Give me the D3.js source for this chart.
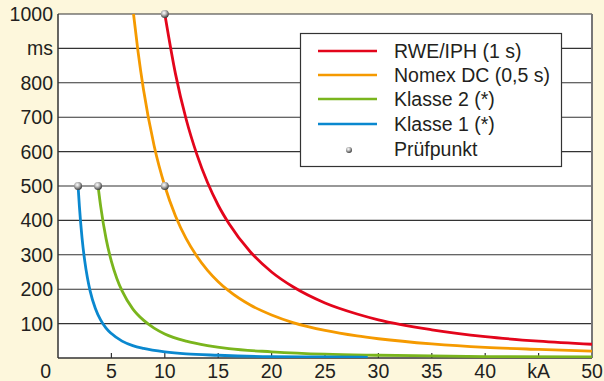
<!DOCTYPE html>
<html><head><meta charset="utf-8">
<script src="https://cdn.jsdelivr.net/npm/d3@7"></script>
<style>
html,body{margin:0;padding:0;background:#fdf7dc;}
svg{display:block;font-family:"Liberation Sans",Arial,Helvetica,sans-serif;}
</style></head>
<body>
<svg id="c" width="604" height="381"></svg>
<script>
// ---- data ----
const yTicks = [100,200,300,400,500,600,700,800,900,1000];
const yTickLabels = ["100","200","300","400","500","600","700","800","ms","1000"];
const xTicks = [5,10,15,20,25,30,35,40,45,50];
const xTickLabels = ["5","10","15","20","25","30","35","40","kA","50"];

const seriesNames = ["RWE/IPH (1 s)","Nomex DC (0,5 s)","Klasse 2 (*)","Klasse 1 (*)"];
const seriesColors = ["#e3051b","#f59a00","#7ab51d","#0a88cf"];

const rweKA = [10,11,12,13,14,15,16,18,20,22,25,28,30,35,40,45,50];
const rweMS = [1000,826,694,592,510,444,391,309,250,207,160,128,111,82,62,49,40];

const nomexKA = [7.07,7.5,8,9,10,11,12,13,14,15,16,18,20,22,25,28,30,35,40,45,50];
const nomexMS = [1000,889,781,617,500,413,347,296,255,222,195,154,125,103,80,64,56,41,31,25,20];

const kl2KA = [3.75,4,4.5,5,5.5,6,7,8,9,10,12,14,16,20,25,30,35,40,50];
const kl2MS = [500,440,347,281,232,195,143,110,87,70,49,36,27,18,11,8,6,4,3];

const kl1KA = [1.88,2,2.25,2.5,2.75,3,3.5,4,4.5,5,6,7,8,10,12,15,20,25,29];
const kl1MS = [500,442,349,283,234,196,144,110,87,71,49,36,28,18,12,8,4,3,2];

const checkKA = [1.88,3.75,10,10];
const checkMS = [500,500,500,1000];
const checkLabel = "Prüfpunkt";

// ---- drawing ----
const svg = d3.select("#c");
const L = 58, R = 592, T = 14, B = 358;
const x = d3.scaleLinear().domain([0,50]).range([L,R]);
const y = d3.scaleLinear().domain([0,1000]).range([B,T]);

const defs = svg.append("defs");
const g = defs.append("radialGradient").attr("id","dotg").attr("cx","40%").attr("cy","35%").attr("r","65%");
g.append("stop").attr("offset","0%").attr("stop-color","#ffffff");
g.append("stop").attr("offset","45%").attr("stop-color","#b8b8b8");
g.append("stop").attr("offset","100%").attr("stop-color","#3c3c3c");
defs.append("clipPath").attr("id","clip").append("rect").attr("x",L).attr("y",T-2).attr("width",R-L).attr("height",B-T+2);

svg.append("rect").attr("x",L).attr("y",T).attr("width",R-L).attr("height",B-T).attr("fill","#fff");

// horizontal grid
svg.append("g").selectAll("line").data(yTicks).join("line")
  .attr("x1",L).attr("x2",R).attr("y1",d=>y(d)).attr("y2",d=>y(d))
  .attr("stroke","#333").attr("stroke-width",1.1);

// bottom ticks (inside)
svg.append("g").selectAll("line").data(xTicks.slice(0,-1)).join("line")
  .attr("x1",d=>x(d)).attr("x2",d=>x(d)).attr("y1",B).attr("y2",B-5)
  .attr("stroke","#333").attr("stroke-width",1.2);

// frame
svg.append("line").attr("x1",L).attr("x2",L).attr("y1",T).attr("y2",B).attr("stroke","#333").attr("stroke-width",1.5);
svg.append("line").attr("x1",L).attr("x2",R).attr("y1",B).attr("y2",B).attr("stroke","#333").attr("stroke-width",1.5);
svg.append("line").attr("x1",R).attr("x2",R).attr("y1",T).attr("y2",B).attr("stroke","#777").attr("stroke-width",2);

// curves
const series = [[rweKA,rweMS],[nomexKA,nomexMS],[kl2KA,kl2MS],[kl1KA,kl1MS]];
const line = d3.line().x(d=>x(d[0])).y(d=>y(d[1])).curve(d3.curveMonotoneX);
const cg = svg.append("g").attr("clip-path","url(#clip)");
series.forEach((s,i)=>{
  const pts = s[0].map((k,j)=>[k,s[1][j]]);
  cg.append("path").attr("d",line(pts)).attr("fill","none")
    .attr("stroke",seriesColors[i]).attr("stroke-width",2.8);
});

// check points
svg.append("g").selectAll("circle").data(checkKA.map((k,i)=>[k,checkMS[i]])).join("circle")
  .attr("cx",d=>x(d[0])).attr("cy",d=>y(d[1])).attr("r",4)
  .attr("fill","url(#dotg)");

// y labels
svg.append("g").selectAll("text").data(yTicks).join("text")
  .attr("x",53).attr("y",d=>y(d)).attr("dy","0.36em")
  .attr("text-anchor","end").attr("font-size",19.5).attr("fill","#231f20")
  .text((d,i)=>yTickLabels[i]);
svg.append("text").attr("x",51).attr("y",378).attr("text-anchor","end")
  .attr("font-size",19.5).attr("fill","#231f20").text("0");

// x labels
svg.append("g").selectAll("text").data(xTicks).join("text")
  .attr("x",d=>x(d)).attr("y",378).attr("text-anchor","middle")
  .attr("font-size",19.5).attr("fill","#231f20")
  .text((d,i)=>xTickLabels[i]);

// legend
const lg = svg.append("g");
lg.append("rect").attr("x",300.5).attr("y",33.5).attr("width",261).attr("height",133)
  .attr("fill","#fff").attr("stroke","#333").attr("stroke-width",1.2);
const ly = [51,75,99,124];
seriesNames.forEach((n,i)=>{
  lg.append("line").attr("x1",318).attr("x2",377).attr("y1",ly[i]).attr("y2",ly[i])
    .attr("stroke",seriesColors[i]).attr("stroke-width",2.5);
  lg.append("text").attr("x",394).attr("y",ly[i]).attr("dy","0.36em")
    .attr("font-size",19.5).attr("fill","#231f20").text(n);
});
lg.append("circle").attr("cx",349).attr("cy",150).attr("r",3).attr("fill","url(#dotg)");
lg.append("text").attr("x",394).attr("y",149).attr("dy","0.36em")
  .attr("font-size",19.5).attr("fill","#231f20").text(checkLabel);
</script>
</body></html>
